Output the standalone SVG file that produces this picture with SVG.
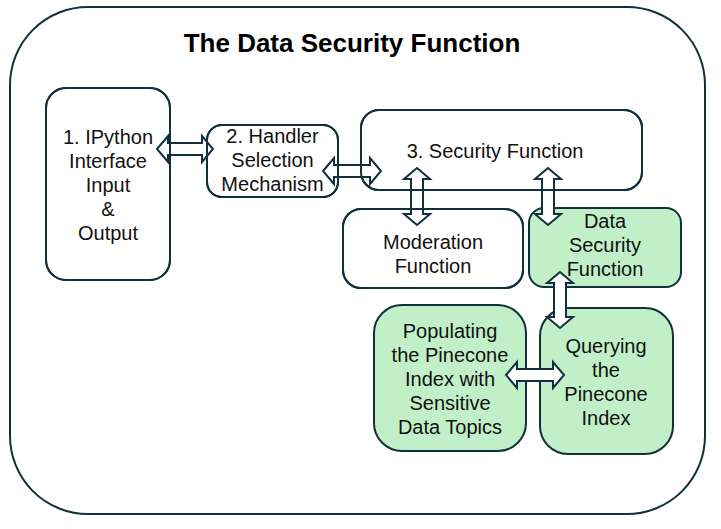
<svg xmlns="http://www.w3.org/2000/svg" width="721" height="529" viewBox="0 0 721 529">
<defs>
<style>
.frame{fill:#fff;stroke:#12303b;stroke-width:2}
.box{fill:#fff;stroke:#12303b;stroke-width:2}
.green{fill:#c1f0c8}
.outline{fill:none;stroke:#12303b;stroke-width:2}
.arrow{fill:#fff;stroke:#12303b;stroke-width:2;stroke-linejoin:miter}
.t{font-family:"Liberation Sans",Arial,sans-serif;font-size:20px;fill:#111;text-anchor:middle}
.title{font-family:"Liberation Sans",Arial,sans-serif;font-size:26px;font-weight:bold;fill:#000;text-anchor:middle}
</style>
</defs>
<rect width="721" height="529" fill="#fff"/>
<g id="frame">
<rect class="frame" x="10" y="7" width="695" height="507" rx="78" ry="78"/>
<text class="title" x="352" y="52">The Data Security Function</text>
</g>
<g id="node1">
<rect class="box" x="46" y="88" width="124" height="192" rx="20"/>
<text class="t" x="108" y="144">1. IPython</text>
<text class="t" x="108" y="168">Interface</text>
<text class="t" x="108" y="192">Input</text>
<text class="t" x="108" y="216">&amp;</text>
<text class="t" x="108" y="240">Output</text>
</g>
<g id="node2">
<rect class="box" x="207" y="125" width="131" height="72" rx="15"/>
<text class="t" x="272.5" y="143">2. Handler</text>
<text class="t" x="272.5" y="167">Selection</text>
<text class="t" x="272.5" y="191">Mechanism</text>
</g>
<g id="node3">
<rect class="box" x="361" y="110" width="281" height="80" rx="18"/>
<text class="t" x="495" y="158">3. Security Function</text>
</g>
<g id="node-moderation">
<rect class="box" x="343" y="209" width="180" height="79" rx="18"/>
<text class="t" x="433" y="249">Moderation</text>
<text class="t" x="433" y="273">Function</text>
</g>
<g id="node-dsf">
<rect class="box green" x="529" y="208" width="152" height="79" rx="15"/>
<text class="t" x="605" y="228">Data</text>
<text class="t" x="605" y="252">Security</text>
<text class="t" x="605" y="276">Function</text>
</g>
<g id="node-populating">
<rect class="box green" x="374" y="305" width="152" height="146" rx="28"/>
<text class="t" x="450" y="338">Populating</text>
<text class="t" x="450" y="362">the Pinecone</text>
<text class="t" x="450" y="386">Index with</text>
<text class="t" x="450" y="410">Sensitive</text>
<text class="t" x="450" y="434">Data Topics</text>
</g>
<g id="node-querying">
<rect class="box green" x="540" y="308" width="133" height="146" rx="28"/>
<text class="t" x="606" y="353">Querying</text>
<text class="t" x="606" y="377">the</text>
<text class="t" x="606" y="401">Pinecone</text>
<text class="t" x="606" y="425">Index</text>
</g>
<g id="connectors">
<path class="arrow" d="M157,149 L168,136 L168,143 L202,143 L202,136 L213,149 L202,162 L202,155 L168,155 L168,162 Z"/>
<path class="arrow" d="M323,171 L334,158 L334,165 L370,165 L370,158 L381,171 L370,184 L370,177 L334,177 L334,184 Z"/>
<path class="arrow" d="M417,168 L404,179 L411,179 L411,214 L404,214 L417,225 L430,214 L423,214 L423,179 L430,179 Z"/>
<path class="arrow" d="M548,168 L535,179 L542,179 L542,214 L535,214 L548,225 L561,214 L554,214 L554,179 L561,179 Z"/>
<path class="arrow" d="M560,272 L547,283 L554,283 L554,317 L547,317 L560,328 L573,317 L566,317 L566,283 L573,283 Z"/>
<path class="arrow" d="M506,375 L517,362 L517,369 L553,369 L553,362 L564,375 L553,388 L553,381 L517,381 L517,388 Z"/>
</g>
<g id="node-outlines">
<rect class="outline" x="46" y="88" width="124" height="192" rx="20"/>
<rect class="outline" x="207" y="125" width="131" height="72" rx="15"/>
<rect class="outline" x="361" y="110" width="281" height="80" rx="18"/>
<rect class="outline" x="343" y="209" width="180" height="79" rx="18"/>
</g>
</svg>
